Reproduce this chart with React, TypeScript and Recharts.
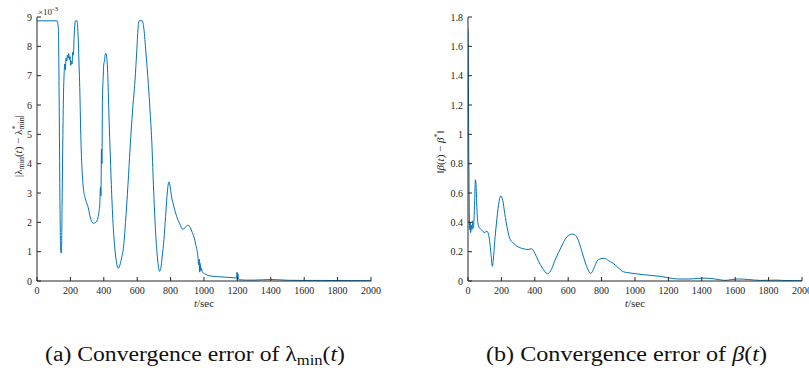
import { Line, LineChart, XAxis, YAxis } from "recharts";

// |lambda_min(t) - lambda*_min|, in units of 1e-3
const lambdaT = [
  0, 120, 128, 133, 137, 141, 144, 147, 150, 154, 158, 162, 166, 170, 174, 178, 182, 186, 190, 194, 198, 202, 206, 210,
  214, 218, 222, 226, 230, 240, 244, 248, 252, 256, 262, 268, 277, 290, 307, 320, 337, 352, 365, 372, 376, 380, 383, 386,
  389, 392, 396, 400, 404, 408, 413, 418, 424, 430, 437, 445, 455, 467, 477, 487, 497, 507, 517, 530, 545, 557, 572, 587,
  597, 605, 612, 630, 640, 652, 667, 677, 687, 697, 707, 718, 727, 733, 740, 750, 760, 770, 780, 790, 798, 805, 817, 837,
  855, 870, 880, 895, 906, 918, 930, 940, 950, 958, 964, 968, 971, 974, 977, 980, 984, 990, 1006, 1030, 1076, 1130, 1176,
  1195, 1198, 1200, 1203, 1206, 1215, 1250, 1300, 1350, 1400, 1450, 1500, 1600, 1700, 1800, 2000,
];
const lambdaErr = [
  8.87, 8.87, 8.6, 6, 3, 1.2, 0.95, 1.1, 2.5, 4.5, 6.2, 7.0, 7.4, 7.2, 7.6, 7.5, 7.7, 7.6, 7.75, 7.55, 7.65, 7.35, 7.5, 7.4,
  7.8, 7.7, 8.3, 8.7, 8.87, 8.87, 8.6, 8.1, 7.3, 6.6, 5.0, 4.0, 3.2, 2.8, 2.5, 2.15, 1.97, 2.0, 2.15, 2.4, 2.6, 3.2, 2.9, 4.5,
  4.0, 6.2, 6.9, 7.4, 7.5, 7.7, 7.76, 7.6, 7.0, 5.8, 4.6, 3.3, 2.0, 1.06, 0.6, 0.43, 0.55, 0.8, 1.1, 2.0, 3.3, 4.5, 5.8, 6.85,
  7.8, 8.6, 8.87, 8.87, 8.6, 7.8, 6.7, 5.8, 4.8, 3.3, 2.0, 1.0, 0.5, 0.33, 0.4, 0.85, 1.4, 2.2, 3.0, 3.38, 3.2, 2.9, 2.6, 2.19,
  1.95, 1.77, 1.78, 1.88, 1.9, 1.82, 1.65, 1.5, 1.25, 1.05, 0.8, 0.55, 0.75, 0.3, 0.6, 0.35, 0.45, 0.3, 0.24, 0.18, 0.15, 0.13,
  0.11, 0.1, 0.3, 0.05, 0.25, 0.06, 0.04, 0.03, 0.03, 0.04, 0.05, 0.04, 0.025, 0.02, 0.02, 0.015, 0.01,
];

// ||beta(t) - beta*||
const betaT = [
  0, 2, 4, 6, 8, 10, 13, 16, 20, 24, 28, 32, 36, 40, 44, 48, 53, 60, 70, 80, 100, 113, 122, 130, 138, 146, 152, 160, 170,
  183, 196, 208, 220, 235, 250, 270, 290, 330, 360, 380, 400, 420, 445, 476, 500, 520, 545, 570, 600, 626, 645, 666, 690,
  710, 736, 755, 770, 790, 816, 840, 870, 900, 930, 970, 1000, 1050, 1100, 1150, 1200, 1250, 1300, 1350, 1400, 1450, 1500,
  1540, 1580, 1620, 1680, 1750, 1800, 1850, 1900, 2000,
];
const betaErr = [
  1.72, 1.5, 1.0, 0.7, 0.45, 0.35, 0.4, 0.33, 0.38, 0.35, 0.41, 0.36, 0.42, 0.55, 0.69, 0.66, 0.5, 0.39, 0.36, 0.35, 0.33,
  0.34, 0.32, 0.27, 0.18, 0.1, 0.15, 0.27, 0.39, 0.52, 0.58, 0.55, 0.46, 0.36, 0.29, 0.26, 0.24, 0.22, 0.215, 0.22, 0.19,
  0.14, 0.09, 0.05, 0.08, 0.14, 0.2, 0.26, 0.31, 0.32, 0.31, 0.26, 0.17, 0.1, 0.052, 0.09, 0.13, 0.15, 0.155, 0.14, 0.12,
  0.09, 0.063, 0.055, 0.05, 0.043, 0.038, 0.032, 0.022, 0.014, 0.013, 0.015, 0.02, 0.018, 0.01, 0.004, 0.01, 0.014, 0.01,
  0.004, 0.005, 0.006, 0.003, 0.002,
];

const tTicks = [0, 200, 400, 600, 800, 1000, 1200, 1400, 1600, 1800, 2000];
const lambdaTicks = [0, 1, 2, 3, 4, 5, 6, 7, 8, 9];
const betaTicks = [0, 0.2, 0.4, 0.6, 0.8, 1, 1.2, 1.4, 1.6, 1.8];

const lambdaData = lambdaT.map((t, i) => ({ t, v: lambdaErr[i] }));
const betaData = betaT.map((t, i) => ({ t, v: betaErr[i] }));

const FONT = "'Liberation Serif', 'DejaVu Serif', serif";
const AXIS = "#262626";
const BLUE = "#0072BD";
const tickStyle = { fontSize: 10, fill: AXIS, fontFamily: FONT };

type PanelProps = {
  data: { t: number; v: number }[];
  yTicks: number[];
  yMax: number;
  width: number;
  marginLeft: number;
  marginRight: number;
};

function Panel({ data, yTicks, yMax, width, marginLeft, marginRight }: PanelProps) {
  return (
    <LineChart width={width} height={300} data={data} margin={{ top: 17, right: marginRight, left: marginLeft, bottom: 0 }}>
      <XAxis
        xAxisId="bottom"
        type="number"
        dataKey="t"
        domain={[0, 2000]}
        ticks={tTicks}
        height={19}
        tickSize={-4}
        tickMargin={10}
        stroke={AXIS}
        tick={tickStyle}
        interval={0}
        allowDataOverflow
      />
      <XAxis
        xAxisId="top"
        orientation="top"
        type="number"
        dataKey="t"
        domain={[0, 2000]}
        ticks={tTicks}
        height={0}
        tickSize={-4}
        stroke={AXIS}
        tick={false}
        allowDataOverflow
      />
      <YAxis
        yAxisId="left"
        type="number"
        domain={[0, yMax]}
        ticks={yTicks}
        width={37}
        tickSize={-4}
        tickMargin={9}
        stroke={AXIS}
        tick={tickStyle}
        interval={0}
        allowDataOverflow
      />
      <YAxis
        yAxisId="right"
        orientation="right"
        type="number"
        domain={[0, yMax]}
        ticks={yTicks}
        width={0}
        tickSize={-4}
        stroke={AXIS}
        tick={false}
        allowDataOverflow
      />
      <Line
        xAxisId="bottom"
        yAxisId="left"
        type="monotone"
        dataKey="v"
        stroke={BLUE}
        strokeWidth={1}
        dot={false}
        isAnimationActive={false}
      />
    </LineChart>
  );
}

export default function App() {
  return (
    <div style={{ position: "absolute", left: 0, top: 0, width: 809, height: 378, background: "#fff", fontFamily: FONT }}>
      <div style={{ position: "absolute", left: 0, top: 0 }}>
        <Panel data={lambdaData} yTicks={lambdaTicks} yMax={9} width={404} marginLeft={0} marginRight={33} />
      </div>
      <div style={{ position: "absolute", left: 404, top: 0 }}>
        <Panel data={betaData} yTicks={betaTicks} yMax={1.8} width={405} marginLeft={27} marginRight={7} />
      </div>
      <svg width={809} height={378} style={{ position: "absolute", left: 0, top: 0, pointerEvents: "none" }}>
        <g fontFamily={FONT} fill={AXIS}>
          <text x={38} y={15} fontSize={9}>
            ×10<tspan fontSize={7} dy={-4}>-3</tspan>
          </text>
          <text transform="translate(22,146) rotate(-90)" textAnchor="middle" fontSize={11}>
            |λ<tspan fontSize={8} dy={2}>min</tspan>
            <tspan dy={-2}>(</tspan>
            <tspan fontStyle="italic">t</tspan>
            <tspan>) − λ</tspan>
            <tspan fontSize={8} dy={-4}>*</tspan>
            <tspan fontSize={8} dx={-4} dy={6}>min</tspan>
            <tspan dy={-2}>|</tspan>
          </text>
          <text transform="translate(444,152) rotate(-90)" textAnchor="middle" fontSize={11}>
            ‖<tspan fontStyle="italic">β</tspan>(<tspan fontStyle="italic">t</tspan>) − <tspan fontStyle="italic">β</tspan>
            <tspan fontSize={8} dy={-4}>*</tspan>
            <tspan dy={4}>‖</tspan>
          </text>
          <text x={204} y={307} textAnchor="middle" fontSize={11}>
            <tspan fontStyle="italic">t</tspan>/sec
          </text>
          <text x={635} y={307} textAnchor="middle" fontSize={11}>
            <tspan fontStyle="italic">t</tspan>/sec
          </text>
        </g>
        <g fontFamily={FONT} fill="#111">
          <text x={45} y={361} fontSize={20} textLength={300} lengthAdjust="spacingAndGlyphs">
            (a) Convergence error of λ<tspan fontSize={14} dy={4}>min</tspan>
            <tspan dy={-4}>(</tspan>
            <tspan fontStyle="italic">t</tspan>)
          </text>
          <text x={486} y={361} fontSize={20} textLength={281} lengthAdjust="spacingAndGlyphs">
            (b) Convergence error of <tspan fontStyle="italic">β</tspan>(<tspan fontStyle="italic">t</tspan>)
          </text>
        </g>
      </svg>
    </div>
  );
}
